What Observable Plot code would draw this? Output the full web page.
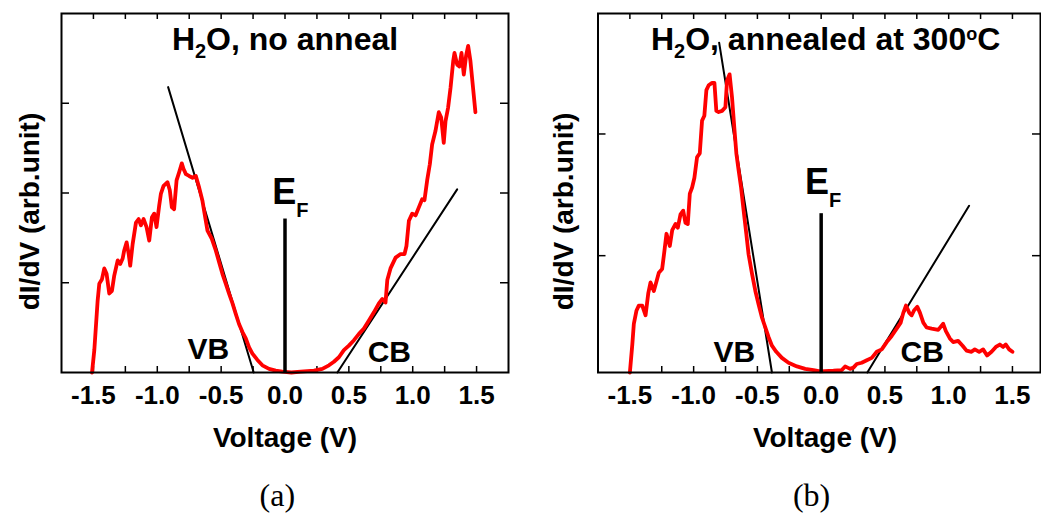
<!DOCTYPE html>
<html><head><meta charset="utf-8">
<script src="https://cdn.jsdelivr.net/npm/d3@7"></script>
<script src="https://cdn.jsdelivr.net/npm/@observablehq/plot@0.6"></script>
<style>
body{margin:0;background:#fff;}
#wrap{position:relative;width:1041px;height:514px;overflow:hidden;background:#fff;}
#pa{position:absolute;left:0;top:0;}
#pb{position:absolute;left:520px;top:0;}
</style></head><body><div id="wrap"><div id="pa"></div><div id="pb"></div></div>
<script>
// ---------- Data: panel (a) H2O, no anneal ----------
const voltsA = [-1.511,-1.493,-1.467,-1.454,-1.433,-1.415,-1.397,-1.376,-1.355,-1.337,-1.310,-1.290,-1.271,-1.259,-1.240,-1.224,-1.212,-1.193,-1.167,-1.146,-1.128,-1.107,-1.084,-1.063,-1.042,-1.024,-1.006,-0.985,-0.972,-0.951,-0.920,-0.902,-0.886,-0.868,-0.849,-0.829,-0.808,-0.795,-0.776,-0.751,-0.724,-0.698,-0.672,-0.646,-0.625,-0.607,-0.573,-0.542,-0.516,-0.490,-0.464,-0.438,-0.411,-0.385,-0.360,-0.333,-0.307,-0.281,-0.255,-0.216,-0.177,-0.125,-0.073,-0.020,0.050,0.123,0.227,0.292,0.344,0.383,0.422,0.461,0.500,0.540,0.579,0.618,0.657,0.696,0.735,0.762,0.787,0.801,0.826,0.866,0.905,0.936,0.951,0.970,0.996,1.022,1.048,1.074,1.092,1.113,1.134,1.152,1.178,1.204,1.223,1.243,1.257,1.277,1.296,1.317,1.327,1.348,1.366,1.382,1.400,1.418,1.434,1.452,1.465,1.491];
const didvA = [0.00,0.25,0.80,0.99,1.04,1.16,1.10,0.88,0.91,1.08,1.25,1.21,1.27,1.36,1.45,1.32,1.19,1.43,1.67,1.71,1.64,1.71,1.62,1.47,1.73,1.77,1.62,1.86,1.99,2.08,2.12,2.03,1.84,1.82,2.14,2.23,2.33,2.27,2.21,2.19,2.17,2.19,2.06,1.91,1.73,1.58,1.49,1.36,1.23,1.10,0.99,0.88,0.77,0.65,0.54,0.45,0.38,0.28,0.21,0.14,0.08,0.04,0.02,0.01,0.00,0.01,0.02,0.04,0.08,0.12,0.17,0.25,0.30,0.36,0.43,0.49,0.58,0.67,0.77,0.82,0.78,1.03,1.16,1.28,1.32,1.32,1.41,1.69,1.77,1.75,1.84,1.93,1.92,2.14,2.32,2.54,2.69,2.90,2.84,2.56,2.80,2.95,3.17,3.47,3.56,3.43,3.41,3.56,3.32,3.53,3.64,3.47,3.28,2.90];
const vbFitA_V = [-0.915,-0.245], vbFitA_v = [3.18,0];
const cbFitA_V = [0.41,1.348],   cbFitA_v = [0,2.04];
const efA = 1.71;

// ---------- Data: panel (b) H2O, annealed at 300oC ----------
const voltsB = [-1.500,-1.481,-1.469,-1.448,-1.430,-1.403,-1.377,-1.356,-1.338,-1.312,-1.291,-1.273,-1.247,-1.229,-1.213,-1.187,-1.168,-1.142,-1.124,-1.103,-1.082,-1.064,-1.046,-1.030,-1.012,-0.994,-0.973,-0.952,-0.934,-0.916,-0.900,-0.882,-0.855,-0.837,-0.822,-0.804,-0.777,-0.751,-0.738,-0.718,-0.699,-0.681,-0.665,-0.647,-0.628,-0.608,-0.587,-0.569,-0.542,-0.516,-0.491,-0.464,-0.438,-0.412,-0.386,-0.352,-0.308,-0.256,-0.190,-0.125,-0.060,-0.008,0.096,0.162,0.188,0.227,0.253,0.279,0.318,0.358,0.397,0.436,0.475,0.514,0.553,0.592,0.624,0.644,0.665,0.691,0.710,0.728,0.754,0.775,0.801,0.827,0.866,0.918,0.957,0.978,1.009,1.035,1.074,1.109,1.140,1.179,1.205,1.239,1.270,1.301,1.336,1.370,1.401,1.427,1.448,1.474,1.500];
const didvB = [0.04,0.27,0.44,0.55,0.59,0.59,0.51,0.69,0.78,0.71,0.79,0.86,0.89,1.04,1.18,1.08,1.21,1.26,1.23,1.34,1.37,1.27,1.26,1.51,1.56,1.64,1.81,1.84,2.11,2.15,2.36,2.40,2.42,2.42,2.19,2.18,2.19,2.22,2.44,2.49,2.30,2.05,1.84,1.70,1.56,1.37,1.18,1.01,0.85,0.71,0.60,0.49,0.41,0.33,0.26,0.21,0.16,0.12,0.09,0.07,0.06,0.05,0.055,0.06,0.09,0.07,0.08,0.11,0.12,0.14,0.16,0.21,0.23,0.29,0.34,0.40,0.45,0.53,0.59,0.53,0.51,0.55,0.58,0.53,0.45,0.41,0.40,0.39,0.44,0.38,0.32,0.29,0.30,0.26,0.22,0.21,0.23,0.21,0.23,0.18,0.21,0.25,0.27,0.25,0.27,0.23,0.21];
const vbFitB_V = [-0.80,-0.386], vbFitB_v = [2.75,0.04];
const cbFitB_V = [0.362,1.16],   cbFitB_v = [0.04,1.41];
const efB = 1.345;

// ---------- Axes ----------
const xMajor = [-1.5,-1.0,-0.5,0.0,0.5,1.0,1.5];
const xMinor = [-1.25,-0.75,-0.25,0.25,0.75,1.25];
const yTicksA = [1,2,3];
const yTicksB = [1,2];
const xLabel = "Voltage (V)";
const yLabel = "dI/dV (arb.unit)";

const FONT = "'Liberation Sans', Arial, Helvetica, sans-serif";
const H = 514, MT = 13, MB = 142;

function panel(o) {
  const FW = o.width - o.ml - o.mr, FH = H - MT - MB;
  const xAll = xMajor.concat(xMinor);
  const svg = Plot.plot({
    width: o.width, height: H,
    marginLeft: o.ml, marginRight: o.mr, marginTop: MT, marginBottom: MB,
    style: {fontFamily: FONT, fontWeight: "bold", background: "white", overflow: "visible"},
    x: {domain: o.xDomain, axis: null},
    y: {domain: o.yDomain, axis: null},
    marks: [
      Plot.ruleX(xAll, {insetTop: FH - 6, stroke: "black", strokeWidth: 1.5}),
      Plot.ruleX(xAll, {insetBottom: FH - 6, stroke: "black", strokeWidth: 1.5}),
      Plot.ruleY(o.yTicks, {insetRight: FW - 8, stroke: "black", strokeWidth: 1.5}),
      Plot.ruleY(o.yTicks, {insetLeft: FW - 8, stroke: "black", strokeWidth: 1.5}),
      Plot.axisX(xMajor, {anchor: "bottom", tickSize: 0, tickPadding: 13, tickFormat: d => d.toFixed(1), fontSize: 26, fontWeight: "bold", label: null}),
      Plot.text([xLabel], {x: o.xLabelX, frameAnchor: "bottom", dy: 74.7, lineAnchor: "bottom", fontSize: 28, fontWeight: "bold"}),
      Plot.text([yLabel], {frameAnchor: "left", textAnchor: "middle", rotate: -90, dx: o.yLabelDx, dy: 18.5, lineAnchor: "bottom", fontSize: 28, fontWeight: "bold"}),
      Plot.text([o.caption], {x: o.captionX, frameAnchor: "bottom", dy: 133, lineAnchor: "bottom", fontSize: 32, fontWeight: "normal", fontFamily: "'Liberation Serif', 'Times New Roman', serif"}),
      Plot.line(o.vbV, {x: o.vbV, y: o.vbv, stroke: "black", strokeWidth: 2}),
      Plot.line(o.cbV, {x: o.cbV, y: o.cbv, stroke: "black", strokeWidth: 2}),
      Plot.line(o.V, {x: o.V, y: o.v, stroke: "#ff0000", strokeWidth: 3.8, strokeLinejoin: "round", strokeLinecap: "round"}),
      Plot.ruleX([0], {y1: o.yDomain[0], y2: o.ef, stroke: "black", strokeWidth: 3.5}),
      Plot.text([o.title], {x: o.titleX, frameAnchor: "top", dy: 36.3, lineAnchor: "bottom", fontSize: 32, fontWeight: "bold"}),
      Plot.text(["EF"], {x: o.efX, y: o.efY, textAnchor: "start", lineAnchor: "bottom", fontSize: 36, fontWeight: "bold"}),
      Plot.text(["VB"], {x: o.vbX, y: o.vbY, lineAnchor: "bottom", fontSize: 30, fontWeight: "bold"}),
      Plot.text(["CB"], {x: o.cbX, y: o.cbY, lineAnchor: "bottom", fontSize: 30, fontWeight: "bold"}),
      Plot.frame({stroke: "black", strokeWidth: 2})
    ]
  });
  const s = d3.select(svg);
  s.selectAll("text").filter(function () { return this.textContent === "EF"; }).each(function () {
    const t = d3.select(this); t.text(null);
    t.append("tspan").text("E");
    t.append("tspan").attr("font-size", 20).attr("dy", 13).text("F");
  });
  s.selectAll("text").filter(function () { return this.textContent === o.title; }).each(function () {
    const t = d3.select(this); t.text(null);
    t.append("tspan").text("H");
    t.append("tspan").attr("font-size", 20).attr("dy", 8).text("2");
    if (o.sup) {
      t.append("tspan").attr("dy", -8).text(o.titleRest[0]);
      t.append("tspan").attr("font-size", 18).attr("dy", -10).text("o");
      t.append("tspan").attr("dy", 10).text(o.titleRest[1]);
    } else {
      t.append("tspan").attr("dy", -8).text(o.titleRest[0]);
    }
  });
  return svg;
}

document.getElementById("pa").appendChild(panel({
  width: 520, ml: 61, mr: 12, xDomain: [-1.75, 1.75], yDomain: [0, 4], yTicks: yTicksA,
  V: voltsA, v: didvA, vbV: vbFitA_V, vbv: vbFitA_v, cbV: cbFitA_V, cbv: cbFitA_v, ef: efA,
  title: "H2O, no anneal", titleRest: ["O, no anneal"], sup: false, titleX: 0,
  efX: -0.10, efY: 1.88, vbX: -0.60, vbY: 0.155, cbX: 0.817, cbY: 0.118,
  xLabelX: 0, yLabelDx: -22.3, caption: "(a)", captionX: -0.06
}));
document.getElementById("pb").appendChild(panel({
  width: 521, ml: 77.5, mr: 1, xDomain: [-1.75, 1.72], yDomain: [0.04, 2.99], yTicks: yTicksB,
  V: voltsB, v: didvB, vbV: vbFitB_V, vbv: vbFitB_v, cbV: cbFitB_V, cbv: cbFitB_v, ef: efB,
  title: "H2O, annealed at 300oC", titleRest: ["O, annealed at 300", "C"], sup: true, titleX: 0.035,
  efX: -0.127, efY: 1.51, vbX: -0.68, vbY: 0.123, cbX: 0.793, cbY: 0.123,
  xLabelX: 0.03, yLabelDx: -25.5, caption: "(b)", captionX: -0.075
}));
</script>
</body></html>
